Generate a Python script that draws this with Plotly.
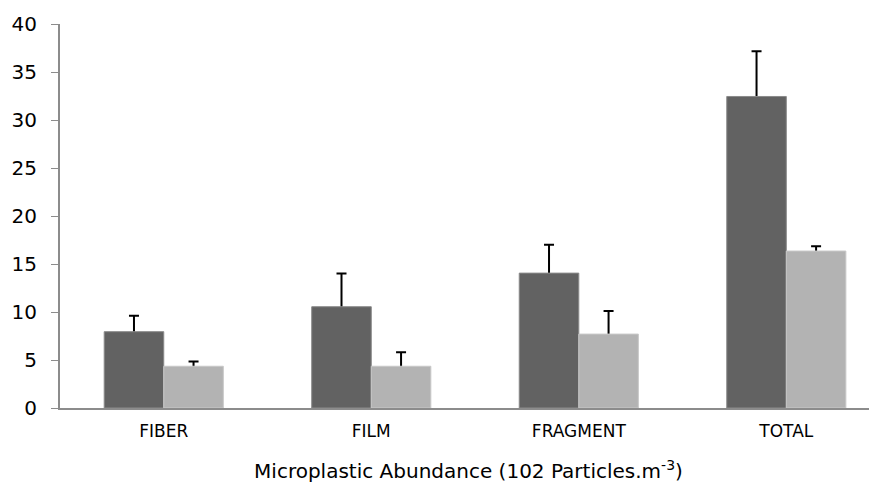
import plotly.graph_objects as go

categories = ["FIBER", "FILM", "FRAGMENT", "TOTAL"]
dark_values = [7.95, 10.55, 14.05, 32.45]
dark_errors = [1.65, 3.45, 2.95, 4.7]
light_values = [4.35, 4.35, 7.7, 16.35]
light_errors = [0.5, 1.45, 2.4, 0.5]
y_ticks = [0, 5, 10, 15, 20, 25, 30, 35, 40]

fig = go.Figure()
# Invisible carrier bars hold the error bars; the real bars drawn after them hide the lower half.
for vals, errs, grp in [(dark_values, dark_errors, "a"), (light_values, light_errors, "b")]:
    fig.add_trace(go.Bar(
        x=categories, y=vals, offsetgroup=grp,
        marker=dict(color="rgba(0,0,0,0)", line=dict(width=0)),
        error_y=dict(type="data", array=errs, symmetric=True,
                     color="black", thickness=2, width=5),
        showlegend=False, hoverinfo="skip",
    ))
fig.add_trace(go.Bar(
    x=categories, y=dark_values, offsetgroup="a",
    marker=dict(color="#626262", line=dict(color="#8a8a8a", width=1)),
    showlegend=False,
))
fig.add_trace(go.Bar(
    x=categories, y=light_values, offsetgroup="b",
    marker=dict(color="#b3b3b3", line=dict(color="#c8c8c8", width=1)),
    showlegend=False,
))

fig.update_layout(
    width=869, height=475,
    margin=dict(l=52, r=0, t=16, b=75),
    paper_bgcolor="white", plot_bgcolor="white",
    barmode="group", bargap=0.426, bargroupgap=0,
    font=dict(family="DejaVu Sans, Liberation Sans, sans-serif", color="black"),
)
fig.update_xaxes(
    range=[-0.5, 3.437], automargin=False,
    showline=True, linecolor="#8c8c8c", linewidth=2,
    ticks="", showgrid=False, ticklabelstandoff=7,
    tickfont=dict(size=17),
    title=dict(text="Microplastic Abundance (102 Particles.m<sup>-3</sup>)",
               font=dict(size=20), standoff=31),
)
fig.update_yaxes(
    range=[0, 40], tickvals=y_ticks, automargin=False,
    showline=True, linecolor="#8c8c8c", linewidth=2,
    ticks="outside", ticklen=7, tickcolor="#8c8c8c", tickwidth=1,
    showgrid=False, zeroline=False, ticklabelstandoff=10,
    tickfont=dict(size=20),
)

fig.write_html("out.html")
